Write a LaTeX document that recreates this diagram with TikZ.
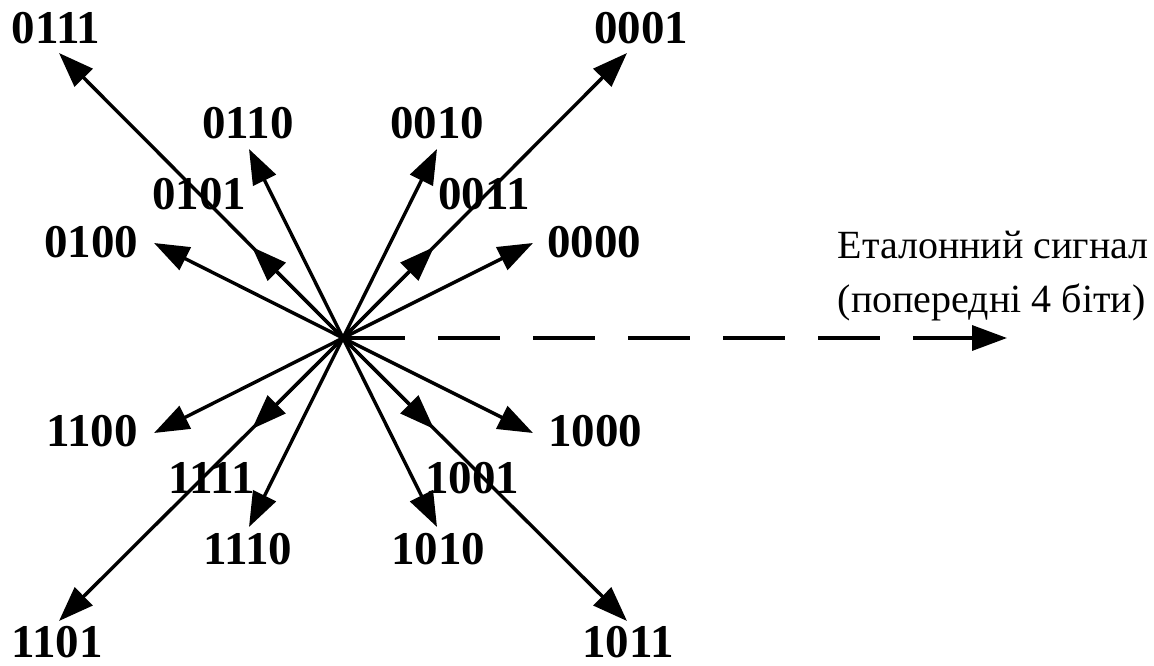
\documentclass[tikz,border=0pt]{standalone}
\usepackage{fontspec}
\setmainfont{Liberation Serif}
\usetikzlibrary{arrows.meta}

\begin{document}
\begin{tikzpicture}[x=1pt, y=-1pt, line width=3.4pt,
  vec/.style={-{Triangle[length=35pt, width=25pt]}},
  code/.style={font=\fontsize{47}{50}\selectfont\bfseries, inner sep=0pt}]
  \useasboundingbox (0,0) rectangle (1154,666);
  % Common origin
  \coordinate (o) at (343,338);

  % Arrow tips
  \coordinate (t0111) at (59,53);
  \coordinate (t0110) at (249,149);
  \coordinate (t0101) at (252,247);
  \coordinate (t0100) at (154,243);
  \coordinate (t0010) at (437,149);
  \coordinate (t0011) at (434,247);
  \coordinate (t0001) at (627,53);
  \coordinate (t0000) at (533,243);
  \coordinate (t1100) at (154,433);
  \coordinate (t1111) at (252,429);
  \coordinate (t1110) at (249,527);
  \coordinate (t1101) at (59,621);
  \coordinate (t1000) at (533,433);
  \coordinate (t1001) at (434,429);
  \coordinate (t1010) at (437,527);
  \coordinate (t1011) at (627,621);
  \coordinate (tref) at (1007,338);

  % Code labels
  \node[code] (l0111) at (56,28) {0111};
  \node[code] (l0110) at (248,123) {0110};
  \node[code] (l0101) at (199,194) {0101};
  \node[code] (l0100) at (91,242) {0100};
  \node[code] (l0010) at (437,123) {0010};
  \node[code] (l0011) at (484,194) {0011};
  \node[code] (l0001) at (641,28) {0001};
  \node[code] (l0000) at (594,242) {0000};
  \node[code] (l1100) at (92,431) {1100};
  \node[code] (l1111) at (212,478) {1111};
  \node[code] (l1110) at (248,549) {1110};
  \node[code] (l1101) at (57,642) {1101};
  \node[code] (l1000) at (595,431) {1000};
  \node[code] (l1001) at (472,478) {1001};
  \node[code] (l1010) at (438,549) {1010};
  \node[code] (l1011) at (628,642) {1011};

  % Reference label
  \node[anchor=north west, align=left, inner sep=0pt,
        font=\fontsize{40}{54}\selectfont] (ref) at (836,229)
        {Еталонний сигнал\\(попередні 4 біти)};

  % Signal vectors
  \draw[vec] (o) -- (t0111);
  \draw[vec] (o) -- (t0110);
  \draw[vec] (o) -- (t0101);
  \draw[vec] (o) -- (t0100);
  \draw[vec] (o) -- (t0010);
  \draw[vec] (o) -- (t0011);
  \draw[vec] (o) -- (t0001);
  \draw[vec] (o) -- (t0000);
  \draw[vec] (o) -- (t1100);
  \draw[vec] (o) -- (t1111);
  \draw[vec] (o) -- (t1110);
  \draw[vec] (o) -- (t1101);
  \draw[vec] (o) -- (t1000);
  \draw[vec] (o) -- (t1001);
  \draw[vec] (o) -- (t1010);
  \draw[vec] (o) -- (t1011);
  \draw[vec, dash pattern=on 62pt off 33pt] (o) -- (tref);
\end{tikzpicture}
\end{document}
